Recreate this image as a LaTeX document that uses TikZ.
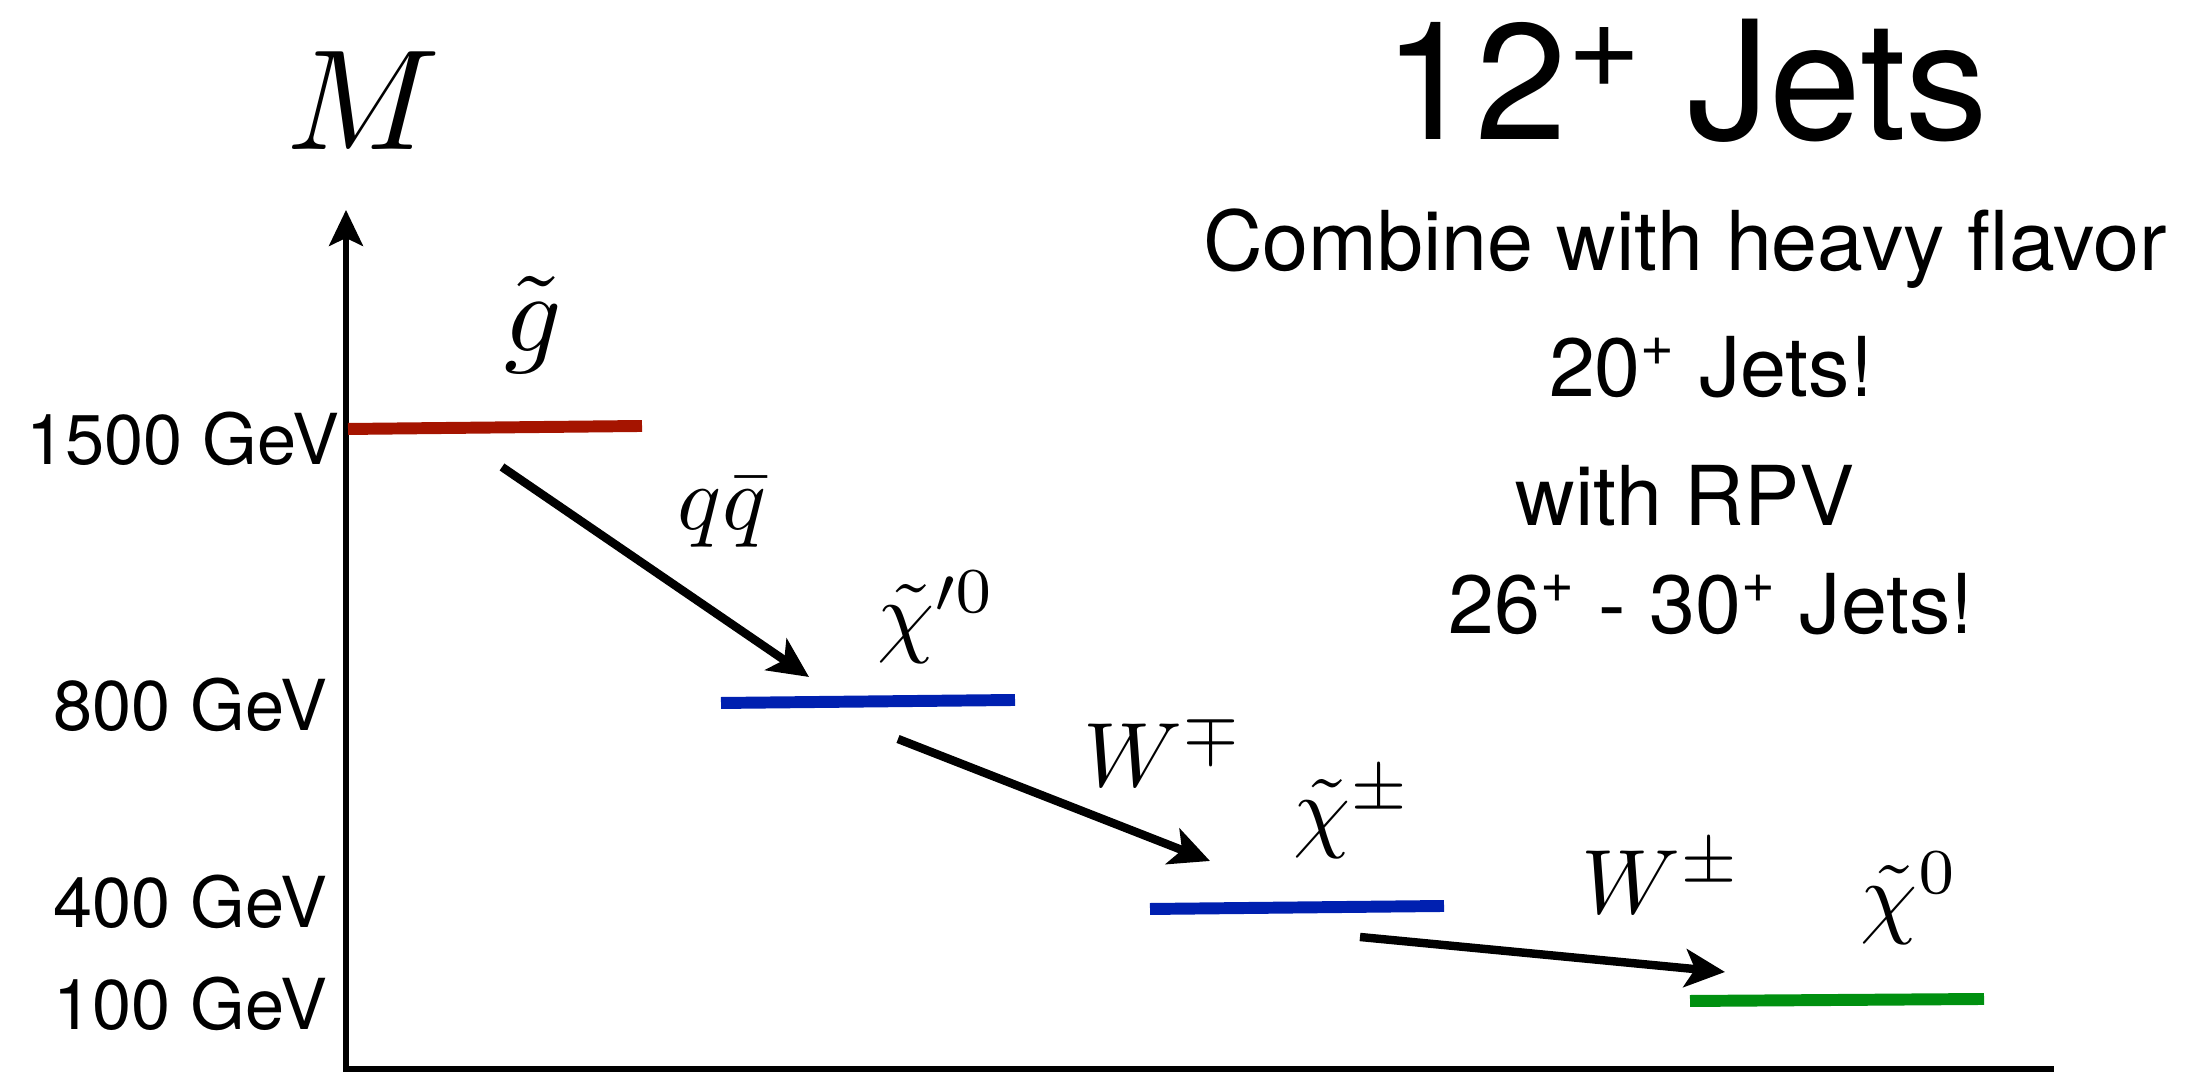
\documentclass[tikz,border=0pt]{standalone}
\usepackage{graphicx}
\usepackage{fontspec}
\newfontfamily\hv{TeX Gyre Heros}
\usetikzlibrary{arrows.meta}
\definecolor{lvred}{RGB}{165,20,0}
\definecolor{lvblue}{RGB}{0,32,176}
\definecolor{lvgreen}{RGB}{0,144,16}
\newcommand{\scmath}[2]{\scalebox{#1}{$#2$}}
\tikzset{
  level/.style={line width=3.4pt},
  decay/.style={line width=2.4pt,-{Stealth[length=0.40cm,width=0.38cm,inset=0.1cm]}},
  axisline/.style={line width=1.5pt},
  mlab/.style={inner sep=0pt},
  gevlab/.style={inner sep=0pt,anchor=east,font=\hv\fontsize{20}{24}\selectfont},
  rtext/.style={inner sep=0pt,anchor=base,font=\hv\fontsize{23.5}{28}\selectfont},
}
\begin{document}
\begin{tikzpicture}
\useasboundingbox (0,0) rectangle (21.99,10.72);
% axes
\coordinate (origin) at (3.46,0.03);
\coordinate (ytip) at (3.46,8.62);
\coordinate (xend) at (20.54,0.03);
\draw[axisline,-{Stealth[length=0.36cm,width=0.34cm,inset=0.08cm]}] (3.46,-0.2) -- (ytip);
\draw[axisline] (origin) -- (xend);
\node[mlab] (M) at (3.64,9.71) {\scmath{4.07}{M}};
% levels
\coordinate (g1) at (3.48,6.43); \coordinate (g2) at (6.42,6.46);
\coordinate (n1) at (7.21,3.69); \coordinate (n2) at (10.15,3.72);
\coordinate (c1) at (11.50,1.63); \coordinate (c2) at (14.44,1.66);
\coordinate (z1) at (16.90,0.71); \coordinate (z2) at (19.84,0.73);
\draw[level,lvred] (g1) -- (g2);
\draw[level,lvblue] (n1) -- (n2);
\draw[level,lvblue] (c1) -- (c2);
\draw[level,lvgreen] (z1) -- (z2);
% decays
\coordinate (a1s) at (5.02,6.05); \coordinate (a1e) at (8.09,3.95);
\coordinate (a2s) at (8.98,3.33); \coordinate (a2e) at (12.10,2.11);
\coordinate (a3s) at (13.60,1.35); \coordinate (a3e) at (17.25,1.00);
\draw[decay] (a1s) -- (a1e);
\draw[decay] (a2s) -- (a2e);
\draw[decay] (a3s) -- (a3e);
% particle labels
\node[mlab] (gl) at (5.33,7.47) {\scmath{3.2}{\tilde{g}}};
\node[mlab] (qq) at (7.22,5.60) {\scmath{2.6}{q\bar{q}}};
\node[mlab] (chip) at (9.37,4.55) {\scmath{2.6}{\tilde{\chi}'^{0}}};
\node[mlab] (wmp) at (11.64,3.22) {\scmath{2.6}{W^{\mp}}};
\node[mlab] (chipm) at (13.53,2.59) {\scmath{2.6}{\tilde{\chi}^{\pm}}};
\node[mlab] (wpm) at (16.62,1.95) {\scmath{2.6}{W^{\pm}}};
\node[mlab] (chi0) at (19.10,1.74) {\scmath{2.6}{\tilde{\chi}^{0}}};
% mass labels
\node[gevlab] (m1500) at (3.40,6.33) {1500 GeV};
\node[gevlab] (m800) at (3.28,3.67) {800 GeV};
\node[gevlab] (m400) at (3.28,1.70) {400 GeV};
\node[gevlab] (m100) at (3.28,0.68) {100 GeV};
% right text
\node[inner sep=0pt,anchor=base,font=\hv\fontsize{47}{52}\selectfont] (title) at (16.86,9.32) {12\raisebox{0.52cm}{\fontsize{36}{36}\selectfont +} Jets};
\node[rtext] (comb) at (16.85,8.01) {Combine with heavy flavor};
\node[rtext] (j20) at (17.11,6.75) {20\textsuperscript{+} Jets!};
\node[rtext] (rpv) at (16.85,5.46) {with RPV};
\node[rtext] (j26) at (17.11,4.38) {26\textsuperscript{+} - 30\textsuperscript{+} Jets!};
\end{tikzpicture}
\end{document}
